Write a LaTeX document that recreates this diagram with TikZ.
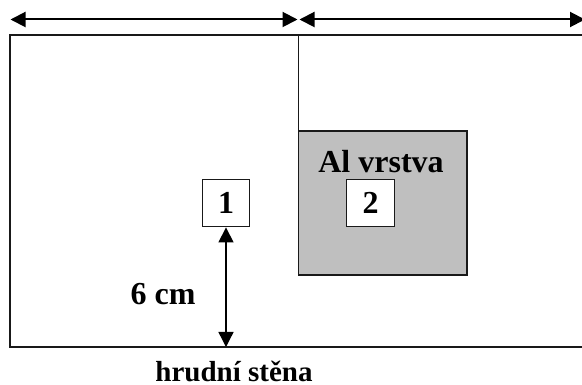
\documentclass[tikz,border=0pt]{standalone}
\usepackage{fontspec}
\setmainfont{Liberation Serif}
\usetikzlibrary{arrows.meta}
\tikzset{
  px/.style={x=1pt,y=-1pt},
  edge/.style={draw=black!90,line width=1.35pt},
  sensor/.style={draw=black!90,line width=1.35pt,fill=white,minimum size=47.5pt,inner sep=0pt,font=\bfseries\fontsize{32}{32}\selectfont},
  layer/.style={draw=black!90,line width=1.35pt,fill=black!25,minimum size=0pt,inner sep=0pt},
  lab/.style={inner sep=0pt,anchor=base,font=\bfseries\fontsize{32}{32}\selectfont,text=black},
  dim/.style={line width=2pt,{Triangle[length=15pt,width=15pt]}-{Triangle[length=15pt,width=15pt]}},
  dimthin/.style={line width=1.35pt,{Triangle[length=15pt,width=15pt]}-{Triangle[length=15pt,width=15pt]}}
}
\begin{document}
\begin{tikzpicture}[px]
\useasboundingbox (0,0) rectangle (582,385);
\draw[edge] (10,35) rectangle (584,347);
\draw[edge] (298.7,35) -- (298.7,131);
\node[layer,minimum width=168.5pt,minimum height=144pt] (al) at (382.75,203) {};
\node[sensor] (s1) at (226,203) {1};
\node[sensor] (s2) at (370.5,203) {2};
\node[lab] (altxt) at (381,173) {Al vrstva};
\coordinate (la) at (10.5,19.5);
\coordinate (mid1) at (297.5,19.5);
\coordinate (mid2) at (299.5,19.5);
\coordinate (ra) at (585,19.5);
\coordinate (wall) at (226,347);
\draw[dim] (la) -- (mid1);
\draw[dim] (mid2) -- (ra);
\draw[dimthin] (s1.south) -- (wall);
\node[lab] (six) at (163,305) {6 cm};
\node[lab,font=\bfseries\fontsize{29}{29}\selectfont] (wl) at (234,381.5) {hrudní stěna};
\end{tikzpicture}
\end{document}
